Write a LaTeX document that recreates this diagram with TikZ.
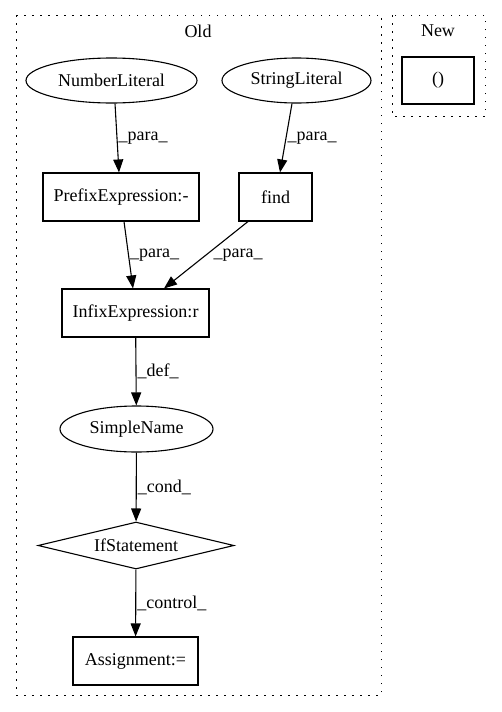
\documentclass[tikz,border=0pt]{standalone}
\usepackage{fontspec}
\setmainfont{Liberation Serif}
\usetikzlibrary{arrows.meta,shapes.geometric}

\tikzset{
	every node/.style={font=\fontsize{18}{21}\selectfont},
	box/.style={draw, line width=1.1pt, rectangle, minimum height=48pt, inner sep=0pt},
	oval/.style={draw, line width=1.1pt, ellipse, minimum height=45pt, inner sep=0pt},
	cond/.style={draw, line width=1.1pt, diamond, aspect=4.2, minimum width=196pt, minimum height=47pt, inner sep=0pt},
	flow/.style={line width=1.1pt, -{Triangle[length=13pt,width=10pt]}},
	lbl/.style={anchor=west, inner sep=1pt},
	cluster/.style={line width=1pt, dash pattern=on 1.5pt off 6.5pt}
}

\begin{document}
\begin{tikzpicture}[x=1pt, y=-1pt]
			%%%%% START %%%%%
			\useasboundingbox (0, 0) rectangle (501, 712);
			
			\draw[cluster] (16, 15) rectangle (381, 695);
			\draw[cluster] (392, 15) rectangle (485, 116);
			\node (oldlbl) at (198, 31) {Old};
			\node (newlbl) at (438, 31) {New};
			
			\node[oval, minimum width=171pt] (num) at (111.5, 80.5) {NumberLiteral};
			\node[oval, minimum width=149pt] (str) at (296.5, 80.5) {StringLiteral};
			\node[box, minimum width=156pt] (prefix) at (121, 197) {PrefixExpression:-};
			\node[box, minimum width=73pt] (find) at (275.5, 197) {find};
			\node[box, minimum width=147pt] (infix) at (135.5, 313) {InfixExpression:r};
			\node[oval, minimum width=153pt, minimum height=46pt] (sname) at (136.5, 429) {SimpleName};
			\node[cond] (ifst) at (136, 545.5) {IfStatement};
			\node[box, minimum width=125pt] (assign) at (135.5, 661) {Assignment:=};
			
			\node[box, minimum width=72pt, minimum height=47pt] (paren) at (438, 80.5) {()};
			
			\draw[flow] ([xshift=3.5pt]num.south) -- ([xshift=-2pt]prefix.north) node[lbl, midway] {\_para\_};
			\draw[flow] ([xshift=-4.5pt]str.south) -- ([xshift=4.5pt]find.north) node[lbl, midway] {\_para\_};
			\draw[flow] ([xshift=3pt]prefix.south) -- ([xshift=-2.5pt]infix.north) node[lbl, midway] {\_para\_};
			\draw[flow] ([xshift=-27.5pt]find.south) -- ([xshift=28.5pt]infix.north) node[lbl, midway, xshift=6pt] {\_para\_};
			\draw[flow] (infix) -- (sname) node[lbl, midway] {\_def\_};
			\draw[flow] (sname) -- (ifst) node[lbl, midway] {\_cond\_};
			\draw[flow] (ifst) -- (assign) node[lbl, midway] {\_control\_};
			
			%%%%% END %%%%%
\end{tikzpicture}
\end{document}
